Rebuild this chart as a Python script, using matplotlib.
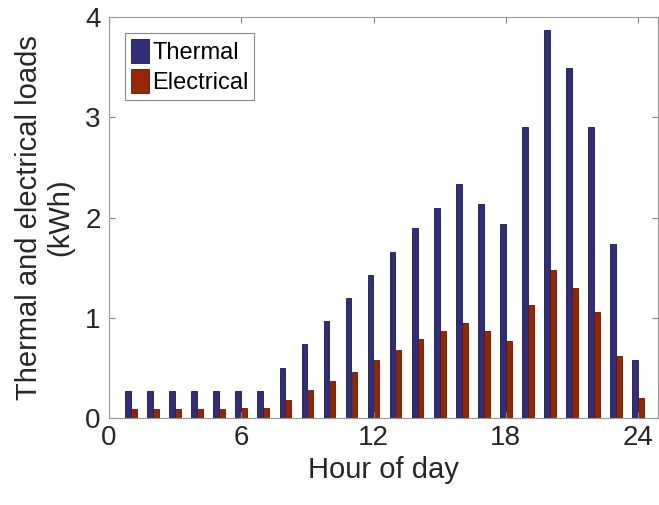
import matplotlib.pyplot as plt
import numpy as np

hours = np.arange(1, 25)
thermal = [0.27, 0.27, 0.27, 0.27, 0.27, 0.27, 0.27, 0.50, 0.74, 0.97,
           1.20, 1.43, 1.66, 1.90, 2.09, 2.33, 2.13, 1.94, 2.90, 3.87,
           3.49, 2.90, 1.74, 0.58]
electrical = [0.09, 0.09, 0.09, 0.09, 0.09, 0.10, 0.10, 0.18, 0.28, 0.37,
              0.46, 0.58, 0.68, 0.79, 0.87, 0.95, 0.87, 0.77, 1.13, 1.48,
              1.30, 1.06, 0.62, 0.20]
xticks = [0, 6, 12, 18, 24]
yticks = [0, 1, 2, 3, 4]

plt.rcParams['font.family'] = ['Liberation Sans', 'DejaVu Sans']

fig = plt.figure(figsize=(6.59, 5.05), dpi=100)
ax = fig.add_axes([0.1654, 0.1723, 0.833, 0.794])

w = 0.26
ax.bar(hours - 0.135, thermal, width=w, color='#312c7c', edgecolor='#1a1a40',
       linewidth=0.6, label='Thermal')
ax.bar(hours + 0.135, electrical, width=w, color='#962600', edgecolor='#5a1a00',
       linewidth=0.6, label='Electrical')

ax.set_xlim(0, 24.9)
ax.set_ylim(0, 4)
ax.set_xticks(xticks)
ax.set_yticks(yticks)
ax.tick_params(direction='in', top=True, right=True, labelsize=20,
               colors='#888888', labelcolor='#262626', length=4)
ax.tick_params(axis='x', pad=5)
ax.tick_params(axis='y', pad=6)
for s in ax.spines.values():
    s.set_color('#999999')
    s.set_linewidth(0.8)

ax.set_xlabel('Hour of day', fontsize=21, color='#262626', labelpad=4)
ax.set_ylabel('Thermal and electrical loads\n(kWh)', fontsize=21,
              color='#262626', linespacing=1.15, labelpad=8)

leg = ax.legend(loc='upper left', bbox_to_anchor=(0.029, 0.96), fontsize=17,
                handlelength=0.75, handleheight=1.2, handletextpad=0.15,
                borderpad=0.25, labelspacing=0.2, borderaxespad=0,
                fancybox=False, framealpha=1)
leg.get_frame().set_edgecolor('#888888')
leg.get_frame().set_linewidth(0.8)

fig.savefig('out.png', dpi=100)
